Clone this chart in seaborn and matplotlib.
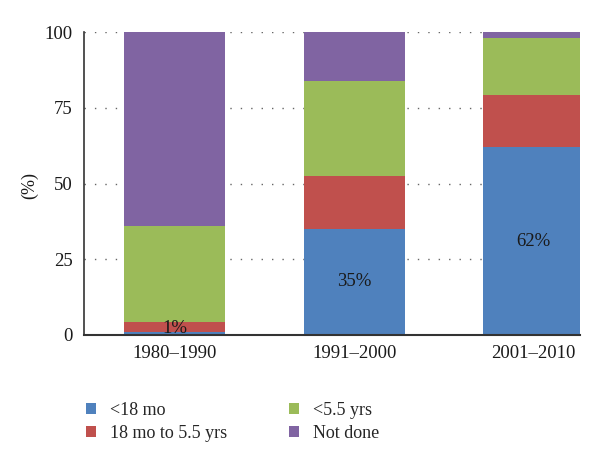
import numpy as np
import pandas as pd
import seaborn as sns
import matplotlib.pyplot as plt
from matplotlib.patches import Patch

sns.set_style("white")
plt.rcParams["font.family"] = ["Liberation Serif", "DejaVu Serif"]

periods = ["1980–1990", "1991–2000", "2001–2010"]
series = ["<18 mo", "18 mo to 5.5 yrs", "<5.5 yrs", "Not done"]
under_18mo = [1.0, 35.0, 62.0]
mo18_to_5yrs = [3.3, 17.6, 17.3]
under_5yrs = [31.7, 31.4, 18.9]
not_done = [64.0, 16.0, 1.8]
bar_labels = ["1%", "35%", "62%"]
colors = ["#4F81BD", "#C0504D", "#9BBB59", "#8064A2"]

values = np.array([under_18mo, mo18_to_5yrs, under_5yrs, not_done])
cumulative = values.cumsum(axis=0)

fig = plt.figure(figsize=(6, 4.67), dpi=100)
ax = fig.add_axes([0.14, 0.283, 0.827, 0.648])

# stacked look: draw cumulative totals from the top segment down
for k in range(len(series) - 1, -1, -1):
    df = pd.DataFrame({"period": periods, "value": cumulative[k]})
    sns.barplot(data=df, x="period", y="value", color=colors[k],
                width=0.563, saturation=1, linewidth=0, ax=ax, zorder=2)

for i, lab in enumerate(bar_labels):
    y = max(under_18mo[i] / 2, 2.0)
    ax.text(i, y, lab, ha="center", va="center", fontsize=13.5, color="#1a1a1a", zorder=3)

ax.set_xlim(-0.504, 2.259)
ax.set_ylim(0, 100)
ax.set_yticks([0, 25, 50, 75, 100])
ax.yaxis.grid(True, linestyle=(0, (1, 6.5)), color="#666666", linewidth=1.0, zorder=0)
ax.set_axisbelow(True)
ax.tick_params(axis="both", length=0, colors="#1a1a1a")
ax.tick_params(axis="x", pad=7, labelsize=13.5)
ax.tick_params(axis="y", pad=8, labelsize=13.5)
ax.set_xlabel("")
ax.set_ylabel("(%)", fontsize=13, color="#1a1a1a")
ax.yaxis.set_label_coords(-0.092, 0.495)
for s in ["top", "right"]:
    ax.spines[s].set_visible(False)
ax.spines["left"].set_color("#333333")
ax.spines["bottom"].set_color("#333333")
ax.spines["left"].set_linewidth(1.2)
ax.spines["bottom"].set_linewidth(1.5)

handles = [Patch(facecolor=c, edgecolor="none") for c in colors]
fig.legend(handles, series, loc="upper left", bbox_to_anchor=(0.116, 0.175),
           ncol=2, frameon=False, fontsize=13, handlelength=0.55, handleheight=0.55,
           handletextpad=0.8, columnspacing=3.4, labelspacing=0.36)

plt.savefig("out.png", dpi=100)
